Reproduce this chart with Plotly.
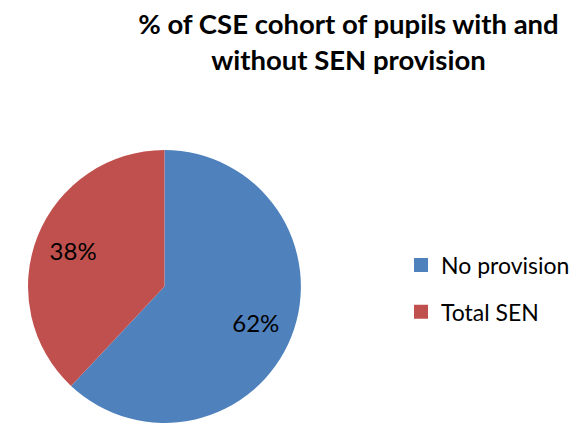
import plotly.graph_objects as go

labels = ["No provision", "Total SEN"]
values = [62, 38]
colors = ["#4F81BD", "#C0504D"]
title_text = "% of CSE cohort of pupils with and<br>without SEN provision"

pie_domain = dict(x=[0.0345, 0.505], y=[0.0235, 0.666])

fig = go.Figure()

# coloured pie
fig.add_trace(
    go.Pie(
        labels=labels,
        values=values,
        sort=False,
        direction="clockwise",
        rotation=0,
        marker=dict(colors=colors, line=dict(width=0)),
        textinfo="none",
        domain=pie_domain,
        showlegend=False,
        hoverinfo="label+percent",
    )
)

# transparent ring carrying the percentage labels (places them at ~0.73 R)
fig.add_trace(
    go.Pie(
        labels=labels,
        values=values,
        sort=False,
        direction="clockwise",
        rotation=0,
        hole=0.44,
        marker=dict(colors=["rgba(0,0,0,0)"] * len(values), line=dict(width=0)),
        texttemplate="%{percent:.0%}",
        textposition="inside",
        insidetextorientation="horizontal",
        textfont=dict(family="Lato", size=24, color="black"),
        domain=pie_domain,
        showlegend=False,
        hoverinfo="skip",
    )
)

# legend entries
for lab, col in zip(labels, colors):
    fig.add_trace(
        go.Scatter(
            x=[None],
            y=[None],
            mode="markers",
            name=lab,
            legendgroup=lab,
            marker=dict(symbol="square", size=14, color=col),
        )
    )

fig.update_layout(
    width=580,
    height=425,
    margin=dict(l=0, r=0, t=0, b=0),
    paper_bgcolor="white",
    plot_bgcolor="white",
    xaxis=dict(visible=False),
    yaxis=dict(visible=False),
    title=dict(
        text=title_text,
        x=0.587,
        xanchor="center",
        y=0.938,
        yanchor="top",
        font=dict(family="Lato", size=27.5, color="black", weight="bold"),
    ),
    legend=dict(
        x=0.6776,
        y=0.34,
        xanchor="left",
        yanchor="middle",
        traceorder="grouped",
        tracegroupgap=14,
        font=dict(family="Lato", size=23, color="black"),
        bgcolor="rgba(0,0,0,0)",
    ),
)

fig.write_html("out.html")
